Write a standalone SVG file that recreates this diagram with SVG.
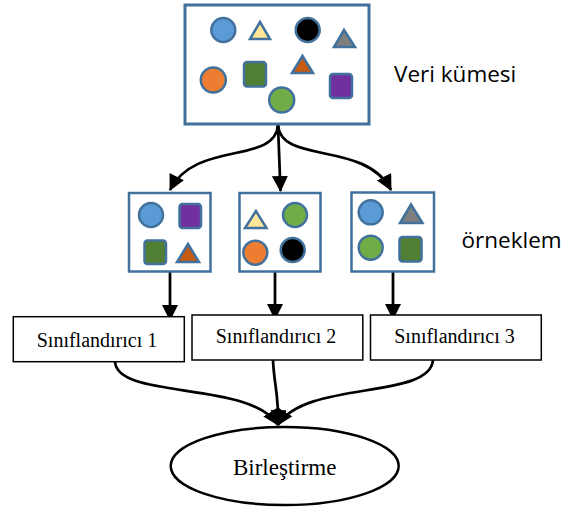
<svg xmlns="http://www.w3.org/2000/svg" width="563" height="509" viewBox="0 0 563 509">
<defs>
<style>
.frame{fill:#fff;stroke:#41719C;stroke-width:3}
.sframe{fill:#fff;stroke:#41719C;stroke-width:2.5}
.sh{stroke:#41719C;stroke-width:2.5}
.box{fill:#fff;stroke:#000;stroke-width:1.5}
.lbl{font-family:"Open Sans","Noto Sans",sans-serif;font-size:22.5px;fill:#000}
.cls{font-family:"Liberation Serif","Times New Roman",serif;font-size:20px;fill:#000}
.conn{fill:none;stroke:#000;stroke-width:2.75;marker-end:url(#arr)}
.blue{fill:#5B9BD5}.yel{fill:#FFE699}.blk{fill:#000}.gry{fill:#7F7F7F}
.org{fill:#ED7D31}.dgr{fill:#507E32}.dor{fill:#C55A11}.grn{fill:#70AD47}.pur{fill:#7030A0}
</style>
<marker id="arr" markerUnits="userSpaceOnUse" markerWidth="16" markerHeight="16" refX="15" refY="8" orient="auto">
<path d="M0,0 L16,8 L0,16 z" fill="#000"/>
</marker>
</defs>

<g id="connectors">
<path class="conn" d="M278,125 C275,165 195,140 170,190"/>
<path class="conn" d="M278,125 L280.5,191"/>
<path class="conn" d="M278,125 C281,165 365,140 391,190"/>
<path class="conn" d="M170,272 L170,320"/>
<path class="conn" d="M275,272 L275,319"/>
<path class="conn" d="M393,272 L393,319"/>
<path class="conn" d="M115,362 C118,400 250,380 278,425"/>
<path class="conn" d="M433,360 C430,400 305,380 278,425"/>
<path class="conn" d="M273,360 C274,385 279,395 278,425"/>
</g>

<g id="dataset">
<rect class="frame" x="185" y="5" width="184" height="119"/>
<circle class="sh blue" cx="223.3" cy="30" r="12"/>
<polygon class="sh yel" points="260,22 250,39 270,39"/>
<circle class="sh blk" cx="307.7" cy="30" r="12"/>
<polygon class="sh gry" points="344,30 334,47 355,47"/>
<circle class="sh org" cx="213.3" cy="80" r="12.5"/>
<rect class="sh dgr" x="244" y="62" width="22" height="24.5" rx="3"/>
<polygon class="sh dor" points="302.5,56 292,73 313,73"/>
<circle class="sh grn" cx="281.7" cy="100" r="12.5"/>
<rect class="sh pur" x="330" y="74" width="22" height="24" rx="3"/>
</g>
<text class="lbl" x="394" y="82">Veri kümesi</text>

<g id="sample1">
<rect class="sframe" x="129" y="193" width="81.5" height="78.5"/>
<circle class="sh blue" cx="151" cy="215" r="12"/>
<rect class="sh pur" x="179.5" y="204" width="21.5" height="24" rx="3"/>
<rect class="sh dgr" x="144.5" y="240.5" width="21.5" height="23.5" rx="3"/>
<polygon class="sh dor" points="188,244 177,262 199,262"/>
</g>
<g id="sample2">
<rect class="sframe" x="239.5" y="193" width="81" height="78.5"/>
<polygon class="sh yel" points="256,211 245,228 266.5,228"/>
<circle class="sh grn" cx="295" cy="215" r="12"/>
<circle class="sh org" cx="255.3" cy="252.7" r="12"/>
<circle class="sh blk" cx="292.7" cy="250" r="12"/>
</g>
<g id="sample3">
<rect class="sframe" x="351.5" y="192.5" width="82.5" height="79"/>
<circle class="sh blue" cx="370.7" cy="212.3" r="12"/>
<polygon class="sh gry" points="411,204.5 400,223 422.5,223"/>
<circle class="sh grn" cx="370.7" cy="247.7" r="12"/>
<rect class="sh dgr" x="399.5" y="237" width="22" height="24.5" rx="3"/>
</g>
<text class="lbl" x="461.5" y="247.5">örneklem</text>

<g id="clf1">
<rect class="box" x="13.3" y="316.7" width="171" height="45"/>
<text class="cls" x="97" y="346.7" text-anchor="middle">Sınıflandırıcı 1</text>
</g>
<g id="clf2">
<rect class="box" x="192" y="315" width="170.8" height="45"/>
<text class="cls" x="276" y="343.3" text-anchor="middle">Sınıflandırıcı 2</text>
</g>
<g id="clf3">
<rect class="box" x="370.5" y="315" width="170.8" height="45"/>
<text class="cls" x="454.5" y="343.3" text-anchor="middle">Sınıflandırıcı 3</text>
</g>

<g id="merge">
<ellipse cx="284.7" cy="466" rx="114" ry="39" fill="#fff" stroke="#000" stroke-width="2.5"/>
<text x="284.7" y="475" text-anchor="middle" font-family="'Liberation Serif','Times New Roman',serif" font-size="23">Birleştirme</text>
</g>
</svg>
